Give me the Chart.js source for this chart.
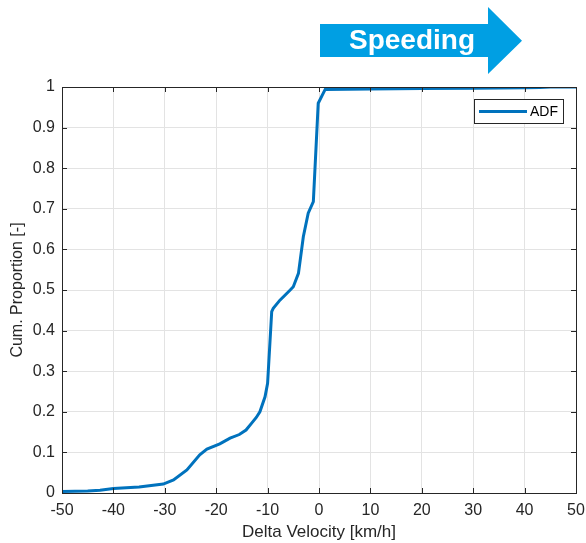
<!DOCTYPE html>
<html>
<head>
<meta charset="utf-8">
<script src="https://cdn.jsdelivr.net/npm/chart.js@4"></script>
<style>
html,body{margin:0;padding:0;background:#fff;}
#wrap{width:586px;height:543px;position:relative;}
</style>
</head>
<body>
<div id="wrap"><canvas id="c" width="586" height="543"></canvas></div>
<script>
const deltaVelocity = [-50, -45, -42.6, -40, -35, -30.3, -28.3, -25.7, -23.2, -21.8, -19.3, -17.3, -15.5, -14.2, -13.1, -12.2, -11.5, -10.5, -10.0, -9.2, -8.9, -7.6, -5.6, -5.0, -4.0, -3.05, -2.1, -1.1, -0.15, 1.2, 10, 20, 30, 40, 43, 45, 50];
const cumProportion = [0.004, 0.005, 0.007, 0.011, 0.015, 0.022, 0.032, 0.057, 0.094, 0.108, 0.121, 0.135, 0.144, 0.155, 0.172, 0.186, 0.2, 0.237, 0.27, 0.447, 0.455, 0.475, 0.5, 0.508, 0.541, 0.631, 0.689, 0.7175, 0.96, 0.994, 0.995, 0.996, 0.997, 0.998, 0.999, 1.0, 1.0];
const xTickValues = [-50, -40, -30, -20, -10, 0, 10, 20, 30, 40, 50];
const yTickValues = [0, 0.1, 0.2, 0.3, 0.4, 0.5, 0.6, 0.7, 0.8, 0.9, 1];
const seriesLabel = 'ADF';
const arrowText = 'Speeding';

const FONT = "'Liberation Sans', Arial, Helvetica, sans-serif";
const TXT = '#262626';

const decor = {
  id: 'decor',
  afterDatasetsDraw(chart) {
    const ctx = chart.ctx;
    const a = chart.chartArea;
    const xs = chart.scales.x, ys = chart.scales.y;
    ctx.save();
    ctx.strokeStyle = TXT;
    ctx.lineWidth = 1;
    const tl = 5;
    xTickValues.forEach(v => {
      const px = Math.round(xs.getPixelForValue(v)) + 0.5;
      ctx.beginPath();
      ctx.moveTo(px, a.bottom); ctx.lineTo(px, a.bottom - tl);
      ctx.moveTo(px, a.top); ctx.lineTo(px, a.top + tl);
      ctx.stroke();
    });
    yTickValues.forEach(v => {
      const py = Math.round(ys.getPixelForValue(v)) + 0.5;
      ctx.beginPath();
      ctx.moveTo(a.left, py); ctx.lineTo(a.left + tl, py);
      ctx.moveTo(a.right, py); ctx.lineTo(a.right - tl, py);
      ctx.stroke();
    });
    ctx.strokeStyle = TXT;
    ctx.strokeRect(Math.round(a.left) + 0.5, Math.round(a.top) + 0.5, Math.round(a.right - a.left), Math.round(a.bottom - a.top));
    const ds = chart.data.datasets[0];
    const lx = 474.5, ly = 99.5, lw = 89, lh = 24;
    ctx.fillStyle = '#fff';
    ctx.fillRect(lx, ly, lw, lh);
    ctx.strokeStyle = '#262626';
    ctx.lineWidth = 1;
    ctx.strokeRect(lx, ly, lw, lh);
    ctx.strokeStyle = ds.borderColor;
    ctx.lineWidth = 3;
    ctx.beginPath();
    ctx.moveTo(479, ly + lh / 2); ctx.lineTo(527, ly + lh / 2);
    ctx.stroke();
    ctx.fillStyle = '#000';
    ctx.font = '14px ' + FONT;
    ctx.textAlign = 'left';
    ctx.textBaseline = 'middle';
    ctx.fillText(ds.label, 530, ly + lh / 2 + 1);
    ctx.fillStyle = '#009FE3';
    ctx.beginPath();
    ctx.moveTo(320, 24);
    ctx.lineTo(488, 24);
    ctx.lineTo(488, 7);
    ctx.lineTo(522, 40.7);
    ctx.lineTo(488, 74);
    ctx.lineTo(488, 57);
    ctx.lineTo(320, 57);
    ctx.closePath();
    ctx.fill();
    ctx.fillStyle = '#fff';
    ctx.font = 'bold 28px ' + FONT;
    ctx.textAlign = 'center';
    ctx.textBaseline = 'alphabetic';
    ctx.fillText(arrowText, 412, 49);
    ctx.restore();
  }
};

new Chart(document.getElementById('c'), {
  type: 'line',
  data: {
    datasets: [{
      label: seriesLabel,
      data: deltaVelocity.map((x, i) => ({x: x, y: cumProportion[i]})),
      borderColor: '#0072BD',
      backgroundColor: '#0072BD',
      borderWidth: 3,
      pointRadius: 0,
      tension: 0,
      fill: false
    }]
  },
  options: {
    responsive: false,
    animation: false,
    devicePixelRatio: 1,
    layout: {padding: {top: 87, right: 10, left: 0, bottom: 0}},
    plugins: {legend: {display: false}, tooltip: {enabled: false}},
    scales: {
      x: {
        type: 'linear', min: -50, max: 50,
        afterBuildTicks: s => { s.ticks = xTickValues.map(v => ({value: v})); },
        afterFit: s => { s.height = 50; s.paddingLeft = 0; s.paddingRight = 0; },
        grid: {color: '#e3e3e3', lineWidth: 1, drawTicks: false},
        border: {display: false},
        ticks: {color: TXT, font: {family: FONT, size: 16}, padding: 8, maxRotation: 0, callback: v => String(v)},
        title: {display: true, text: 'Delta Velocity [km/h]', color: TXT, font: {family: FONT, size: 17}, padding: {top: 0, bottom: 0}}
      },
      y: {
        type: 'linear', min: 0, max: 1,
        afterBuildTicks: s => { s.ticks = yTickValues.map(v => ({value: v})); },
        afterFit: s => { s.width = 62; s.paddingTop = 0; s.paddingBottom = 0; },
        grid: {color: '#e3e3e3', lineWidth: 1, drawTicks: false},
        border: {display: false},
        ticks: {color: TXT, font: {family: FONT, size: 16}, padding: 7, callback: v => String(v)},
        title: {display: true, text: 'Cum. Proportion [-]', color: TXT, font: {family: FONT, size: 16}, padding: {top: 8, bottom: 0}}
      }
    }
  },
  plugins: [decor]
});
</script>
</body>
</html>
